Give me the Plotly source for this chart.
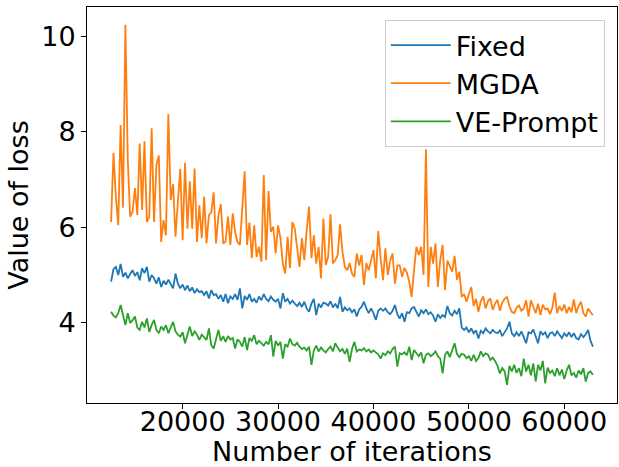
import plotly.graph_objects as go

start_iter = 12500
iter_step = 250

fixed = [
    4.86, 5.12, 5.17, 5.0, 5.23, 4.96, 5.05, 4.93, 5.02, 5.1,
    4.98, 5.06, 4.89, 5.14, 5.04, 5.17, 4.86, 5.0, 4.93, 4.82,
    4.95, 4.75, 4.88, 4.8, 4.9, 4.8, 4.72, 5.03, 4.82, 4.72,
    4.8, 4.68, 4.78, 4.66, 4.74, 4.62, 4.7, 4.64, 4.66, 4.58,
    4.66, 4.51, 4.68, 4.58, 4.6, 4.5, 4.58, 4.44, 4.6, 4.41,
    4.55, 4.5, 4.6, 4.48, 4.72, 4.3, 4.56, 4.48, 4.6, 4.44,
    4.5, 4.42, 4.55, 4.47, 4.6, 4.5, 4.45, 4.55, 4.48, 4.44,
    4.5, 4.3, 4.62, 4.44, 4.5, 4.4, 4.46, 4.4, 4.35, 4.42,
    4.33, 4.44, 4.3, 4.23, 4.4, 4.5, 4.16, 4.4, 4.32, 4.42,
    4.4, 4.36, 4.45, 4.32, 4.4, 4.3, 4.54, 4.23, 4.32, 4.26,
    4.3, 4.22, 4.28, 4.13, 4.28, 4.33, 4.44, 4.3, 4.2, 4.3,
    4.2, 4.06, 4.25, 4.3, 4.25, 4.3, 4.22, 4.18, 4.25, 4.37,
    4.18, 4.09, 4.2, 4.02, 4.22, 4.2, 4.3, 4.33, 4.22, 4.13,
    4.26, 4.2, 4.28, 4.18, 4.22, 4.15, 4.02, 4.18, 4.1, 4.16,
    4.12, 4.35, 4.2, 4.15, 4.25, 4.18, 4.3, 3.9, 3.85, 3.9,
    3.8, 3.88, 3.78, 3.84, 3.67, 3.83, 3.78, 3.88, 3.82, 3.78,
    3.85, 3.8, 3.78, 3.84, 3.72, 3.8, 3.88, 4.02, 3.78, 3.72,
    3.8, 3.72, 3.82, 3.7, 3.57, 3.8, 3.78, 3.86, 3.7, 3.57,
    3.82, 3.75, 3.8, 3.68, 3.78, 3.8, 3.72, 3.82, 3.75, 3.68,
    3.78, 3.72, 3.8, 3.7, 3.78, 3.68, 3.65, 3.76, 3.7, 3.76,
    3.85, 3.62, 3.5,
]

mgda = [
    6.11, 7.56, 6.64, 6.04, 8.14, 6.41, 10.24, 7.4, 6.22, 6.32,
    6.82, 6.25, 7.75, 6.36, 7.8, 6.11, 6.22, 8.07, 6.11, 7.3,
    7.5, 5.69, 6.15, 5.83, 8.37, 6.57, 6.9, 5.8, 6.53, 7.22,
    5.73, 7.35, 5.97, 6.96, 5.97, 7.23, 5.69, 6.46, 5.77, 6.64,
    5.66, 6.25, 6.31, 6.73, 5.66, 6.25, 6.48, 5.66, 5.7, 6.22,
    5.63, 6.29, 5.9, 5.69, 5.63, 6.41, 7.17, 5.63, 6.1, 5.35,
    6.04, 5.38, 5.59, 5.28, 7.09, 5.31, 6.76, 5.9, 6.01, 5.45,
    6.04, 5.77, 5.24, 5.03, 5.8, 5.14, 6.11, 5.97, 5.52, 5.17,
    5.77, 5.31, 5.94, 6.43, 5.35, 5.83, 5.24, 5.59, 4.93, 6.18,
    5.21, 5.38, 6.27, 5.24, 5.31, 5.42, 6.06, 5.49, 5.17, 5.1,
    5.25, 5.03, 4.96, 5.45, 5.2, 5.42, 4.79, 5.25, 5.1, 5.3,
    5.52, 4.93, 5.92, 5.35, 4.89, 5.56, 5.0, 5.3, 5.45, 4.82,
    5.2, 5.2, 4.96, 5.15, 5.05, 4.86, 4.54, 5.1, 5.59, 5.42,
    5.59, 5.0, 7.63, 4.75, 5.59, 5.24, 5.66, 4.75, 5.31, 5.63,
    4.68, 5.3, 5.17, 5.07, 5.4, 4.9, 5.07, 4.54, 4.6, 4.44,
    4.6, 4.75, 4.35, 4.5, 4.23, 4.45, 4.55, 4.3, 4.45, 4.51,
    4.27, 4.4, 4.48, 4.25, 4.42, 4.5, 4.54, 4.35, 4.23, 4.2,
    4.32, 4.36, 4.25, 4.3, 4.47, 4.13, 4.47, 4.35, 4.2, 4.4,
    4.16, 4.38, 4.28, 4.3, 4.18, 4.32, 4.63, 4.2, 4.35, 4.25,
    4.38, 4.2, 4.33, 4.22, 4.49, 4.2, 4.35, 4.44, 4.2, 4.13,
    4.3, 4.22, 4.16,
]

ve_prompt = [
    4.23, 4.15, 4.11, 4.2, 4.37, 4.15, 3.95, 4.2, 4.0, 4.05,
    4.13, 3.9, 3.85, 4.02, 3.9, 4.09, 3.81, 3.95, 4.06, 3.85,
    3.78, 3.92, 3.85, 3.95, 3.78, 3.9, 4.02, 3.82, 3.75, 3.71,
    3.8, 3.57, 3.75, 3.92, 3.72, 3.82, 3.75, 3.64, 3.75, 3.7,
    3.64, 3.88, 3.53, 3.46, 3.68, 3.85, 3.62, 3.72, 3.6, 3.72,
    3.65, 3.68, 3.46, 3.65, 3.6, 3.5, 3.7, 3.43, 3.68, 3.62,
    3.74, 3.55, 3.62, 3.58, 3.52, 3.6, 3.55, 3.74, 3.29, 3.62,
    3.52, 3.6, 3.25, 3.55, 3.5, 3.67, 3.55, 3.52, 3.58, 3.5,
    3.45, 3.48, 3.42, 3.5, 3.12, 3.42, 3.52, 3.4, 3.48, 3.42,
    3.38, 3.45, 3.5, 3.4, 3.57, 3.48, 3.4, 3.45, 3.35, 3.46,
    3.18, 3.45, 3.6, 3.4, 3.44, 3.42, 3.47, 3.4, 3.44, 3.38,
    3.42, 3.38, 3.34, 3.25, 3.36, 3.32, 3.4, 3.36, 3.45, 3.5,
    3.08, 3.36, 3.34, 3.38, 3.32, 3.5, 3.22, 3.43, 3.36, 3.3,
    3.38, 3.15, 3.33, 3.36, 3.3, 3.34, 3.4, 3.3, 3.25, 2.94,
    3.33, 3.4, 3.28, 3.45, 3.57, 3.35, 3.28, 3.35, 3.33, 3.26,
    3.3, 3.2, 3.33, 3.2, 3.26, 3.4, 3.3, 3.36, 3.33, 3.22,
    3.27, 3.2, 3.1, 2.94, 3.05, 2.98, 2.7, 3.1, 2.98, 3.12,
    2.95, 3.05, 2.88, 3.25, 2.98, 3.12, 2.9, 3.15, 2.77, 3.12,
    3.0, 3.2, 2.73, 3.06, 2.95, 3.0, 2.88, 3.05, 2.9, 3.02,
    2.82, 3.0, 3.12, 2.9, 2.95, 2.85, 3.0, 2.92, 3.05, 2.77,
    2.95, 2.98, 2.91,
]

x_ticks = [20000, 30000, 40000, 50000, 60000]
x_tick_labels = ["20000", "30000", "40000", "50000", "60000"]
y_ticks = [4, 6, 8, 10]
y_tick_labels = ["4", "6", "8", "10"]

series = [
    ("Fixed", fixed, "#1f77b4"),
    ("MGDA", mgda, "#ff7f0e"),
    ("VE-Prompt", ve_prompt, "#2ca02c"),
]

fig = go.Figure()
for name, vals, color in series:
    xs = [start_iter + iter_step * i for i in range(len(vals))]
    fig.add_trace(go.Scatter(x=xs, y=vals, mode="lines", name=name,
                             line=dict(color=color, width=1.8)))

FONT = "DejaVu Sans"
axis_common = dict(
    showgrid=False, zeroline=False, showline=True, mirror=True,
    linecolor="black", linewidth=1, ticks="outside", ticklen=5,
    tickwidth=1, tickcolor="black", automargin=False,
    tickfont=dict(family=FONT, size=27, color="black"),
)

fig.update_layout(
    width=619, height=467,
    margin=dict(l=87, r=2, t=7, b=64),
    paper_bgcolor="white", plot_bgcolor="white",
    font=dict(family=FONT, size=27, color="black"),
    xaxis=dict(range=[9975, 65525], tickvals=x_ticks, ticktext=x_tick_labels,
               ticklabelstandoff=-10,
               title=dict(text="Number of iterations", font=dict(family=FONT, size=27), standoff=24),
               **axis_common),
    yaxis=dict(range=[2.32, 10.61], tickvals=y_ticks, ticktext=y_tick_labels,
               title=dict(text="Value of loss", font=dict(family=FONT, size=27), standoff=4),
               **axis_common),
    legend=dict(x=0.977, y=0.967, xanchor="right", yanchor="top",
                bgcolor="rgba(255,255,255,0.8)", bordercolor="#cccccc", borderwidth=1,
                font=dict(family=FONT, size=27, color="black"), itemwidth=60),
)

fig.write_html("out.html", config={"displayModeBar": False},
               post_script="document.body.style.margin='0';")
